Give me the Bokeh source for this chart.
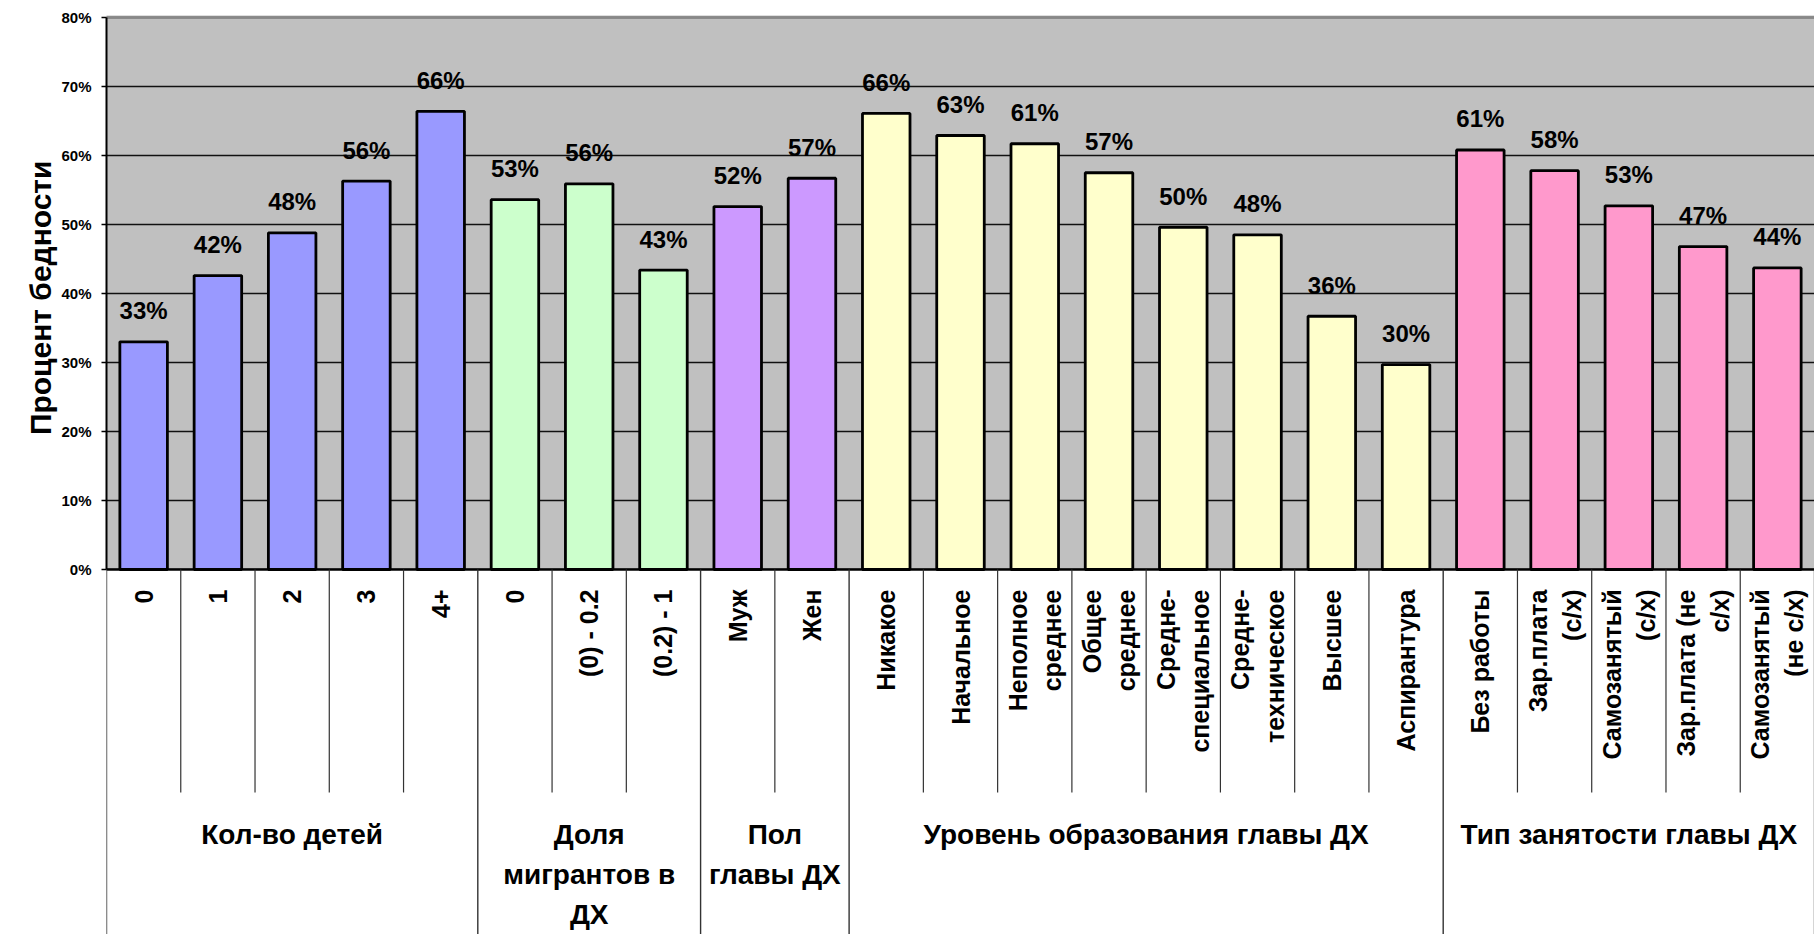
import math
from bokeh.plotting import figure
from bokeh.models import Range1d, FixedTicker, NumeralTickFormatter, Title
from bokeh.core.properties import value
from bokeh.embed import file_html
from bokeh.resources import INLINE

# ---------------- data ----------------
categories = ["0", "1", "2", "3", "4+",
              "0", "(0) - 0.2", "(0.2) - 1",
              "Муж", "Жен",
              "Никакое", "Начальное", "Неполное\nсреднее", "Общее\nсреднее",
              "Средне-\nспециальное", "Средне-\nтехническое", "Высшее", "Аспирантура",
              "Без работы", "Зар.плата\n(с/х)", "Самозанятый\n(с/х)",
              "Зар.плата (не\nс/х)", "Самозанятый\n(не с/х)"]
values = [0.330, 0.426, 0.488, 0.563, 0.664,
          0.536, 0.559, 0.434,
          0.526, 0.567,
          0.661, 0.629, 0.617, 0.575, 0.496, 0.485, 0.367, 0.297,
          0.608, 0.578, 0.527, 0.468, 0.437]
value_labels = ["33%", "42%", "48%", "56%", "66%",
                "53%", "56%", "43%",
                "52%", "57%",
                "66%", "63%", "61%", "57%", "50%", "48%", "36%", "30%",
                "61%", "58%", "53%", "47%", "44%"]
groups = ["Кол-во детей", "Доля\nмигрантов в\nДХ", "Пол\nглавы ДХ",
          "Уровень образования главы ДХ", "Тип занятости главы ДХ"]
group_sizes = [5, 3, 2, 8, 5]
group_colors = ["#9999FF", "#CCFFCC", "#CC99FF", "#FFFFCC", "#FF99CC"]
y_ticks = [0.0, 0.1, 0.2, 0.3, 0.4, 0.5, 0.6, 0.7, 0.8]
y_title = "Процент бедности"

# ---------------- layout ----------------
W, H = 1814, 934
BORDER_LEFT = 106
FRAME_TOP = 15         # canvas y of frame top
Y80_PX = 17            # canvas y of the top tick
AXIS_PX = 569          # canvas y of 0 %
YMAX = y_ticks[-1]
PPU = (AXIS_PX - Y80_PX) / YMAX
YTOP = YMAX + (Y80_PX - FRAME_TOP) / PPU
YMIN = -(H - AXIS_PX) / PPU
FONT = value("Liberation Sans")

n = len(categories)
xs = [i + 0.5 for i in range(n)]
colors = []
for c, s in zip(group_colors, group_sizes):
    colors += [c] * s

p = figure(width=W, height=H, output_backend="svg", toolbar_location=None,
           x_range=Range1d(0, n), y_range=Range1d(YMIN, YTOP),
           min_border_left=BORDER_LEFT, min_border_right=0,
           min_border_top=FRAME_TOP, min_border_bottom=0,
           x_axis_location=None, background_fill_color="#C0C0C0",
           border_fill_color="white", outline_line_color=None)

# y axis
ax = p.yaxis[0]
ax.bounds = (0, YMAX)
ax.ticker = FixedTicker(ticks=y_ticks)
ax.formatter = NumeralTickFormatter(format="0%")
ax.axis_line_color = "black"
ax.axis_line_width = 2
ax.major_tick_line_color = "black"
ax.major_tick_line_width = 1.5
ax.major_tick_out = 5
ax.major_tick_in = 0
ax.minor_tick_line_color = None
ax.major_label_text_font = "Liberation Sans"
ax.major_label_text_font_style = "bold"
ax.major_label_text_font_size = "15px"
ax.major_label_text_color = "black"
ax.major_label_text_baseline = "top"
ax.major_label_standoff = 10

# y title (vertical), its top end placed 145 px below the frame top
p.add_layout(Title(text=y_title, align="right", offset=145, vertical_align="bottom",
                   standoff=4, text_font="Liberation Sans", text_font_style="bold",
                   text_font_size="30px", text_color="black"), "left")

p.xgrid.grid_line_color = None
p.ygrid.grid_line_color = "#111111"
p.ygrid.grid_line_width = 1.4

# white table area below the axis
p.quad(left=0, right=n, bottom=YMIN, top=0, fill_color="white", line_color=None)
# top border of the plot area
p.segment(x0=0, x1=n, y0=YMAX, y1=YMAX, line_color="#888888", line_width=2.5)

# bars
p.vbar(x=xs, top=values, bottom=0, width=0.64, fill_color=colors,
       line_color="black", line_width=2.8)

# value labels
p.text(x=xs, y=values, text=value_labels, text_align="center",
       text_baseline="alphabetic", y_offset=-31, text_font=FONT,
       text_font_style="bold", text_font_size="24px", text_color="black")

# axis line
p.segment(x0=0, x1=n, y0=0, y1=0, line_color="black", line_width=2.5)

# table separators
bounds = [0]
for s in group_sizes:
    bounds.append(bounds[-1] + s)
short_y = -(792 - AXIS_PX) / PPU
full_x = [b for b in bounds]
short_x = [k for k in range(1, n) if k not in bounds]
p.segment(x0=short_x, x1=short_x, y0=[0] * len(short_x), y1=[short_y] * len(short_x),
          line_color="#333333", line_width=1.2)
p.segment(x0=full_x, x1=full_x, y0=[0] * len(full_x), y1=[YMIN] * len(full_x),
          line_color="#333333", line_width=1.4)

# category labels (rotated)
p.text(x=xs, y=[0] * n, text=categories, angle=math.pi / 2, text_align="right",
       text_baseline="middle", y_offset=20, text_font=FONT, text_font_style="bold",
       text_font_size="25px", text_color="black", text_line_height=1.22)

# group labels
centers = [(bounds[i] + bounds[i + 1]) / 2 for i in range(len(groups))]
split = [g.split("\n") for g in groups]
max_lines = max(len(s) for s in split)
for k in range(max_lines):
    gx = [c for c, s in zip(centers, split) if len(s) > k]
    gt = [s[k] for s in split if len(s) > k]
    p.text(x=gx, y=[0] * len(gx), text=gt, text_align="center", text_baseline="middle",
           y_offset=265 + 40 * k, text_font=FONT, text_font_style="bold",
           text_font_size="28px", text_color="black")

open("out.html", "w").write(file_html(p, INLINE))
